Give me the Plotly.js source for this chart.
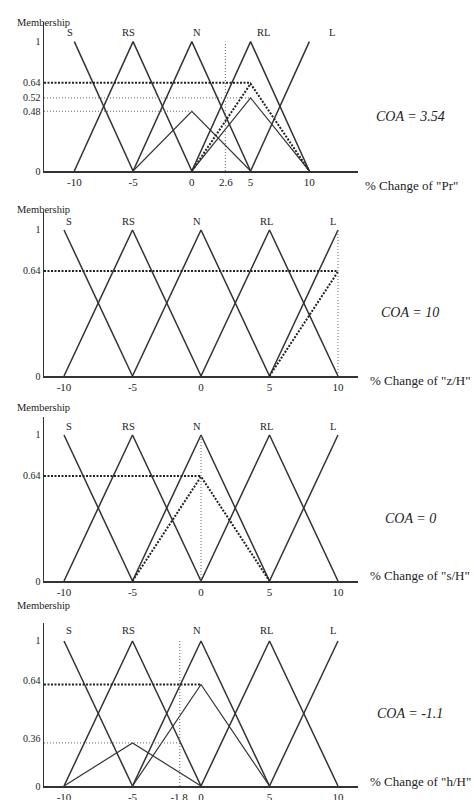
<!DOCTYPE html>
<html>
<head>
<meta charset="utf-8">
<script src="https://cdn.plot.ly/plotly-3.0.1.min.js"></script>
<style>
  html, body { margin: 0; padding: 0; background: #fff; }
  #chart { width: 474px; height: 800px; }
</style>
</head>
<body>
<div id="chart"></div>
<script>
// fuzzy sets shared by all four panels
const classNames = ["S", "RS", "N", "RL", "L"];
const mfX = [[-10, -5], [-10, -5, 0], [-5, 0, 5], [0, 5, 10], [5, 10]];
const mfY = [[1, 0], [0, 1, 0], [0, 1, 0], [0, 1, 0], [0, 1]];

// panel 1: % change of "Pr" (levels as drawn in the figure, labels as printed)
const prTickVals = [-10, -5, 0, 2.9, 5, 10];
const prTickText = ["-10", "-5", "0", "2.6", "5", "10"];
const prLevelVals = [0, 0.462, 0.565, 0.683, 1];
const prLevelText = ["0", "0.48", "0.52", "0.64", "1"];
const prScaledX = [[-5, 0, 5], [0, 5, 10]];
const prScaledY = [[0, 0.462, 0], [0, 0.565, 0]];
const prResultX = [0, 5, 10];
const prResultY = [0, 0.675, 0];
const prGuideY = [0.683, 0.565, 0.462];
const prGuideEnd = [5, 5, 0];
const prCut = 2.85;

// panel 2: % change of "z/H"
const zTickVals = [-10, -5, 0, 5, 10];
const zTickText = ["-10", "-5", "0", "5", "10"];
const zLevelVals = [0, 0.72, 1];
const zLevelText = ["0", "0.64", "1"];
const zResultX = [5, 10];
const zResultY = [0, 0.715];
const zGuideY = [0.719];
const zGuideEnd = [10];
const zCut = 10;

// panel 3: % change of "s/H"
const sTickVals = [-10, -5, 0, 5, 10];
const sTickText = ["-10", "-5", "0", "5", "10"];
const sLevelVals = [0, 0.72, 1];
const sLevelText = ["0", "0.64", "1"];
const sResultX = [-5, 0, 5];
const sResultY = [0, 0.715, 0];
const sGuideY = [0.719];
const sGuideEnd = [0];
const sCut = 0;

// panel 4: % change of "h/H"
const hTickVals = [-10, -5, -1.6, 0, 5, 10];
const hTickText = ["-10", "-5", "-1.8", "0", "5", "10"];
const hLevelVals = [0, 0.33, 0.73, 1];
const hLevelText = ["0", "0.36", "0.64", "1"];
const hScaledX = [[-10, -5, 0], [-5, 0, 5]];
const hScaledY = [[0, 0.297, 0], [0, 0.7, 0]];
const hGuideY = [0.7, 0.297];
const hGuideEnd = [0, -1.55];
const hCut = -1.55;

const coaValues = ["3.54", "10", "0", "-1.1"];
const varNames = ["Pr", "z/H", "s/H", "h/H"];

const panels = [
  { tv: prTickVals, tt: prTickText, lv: prLevelVals, lt: prLevelText, scaledX: prScaledX, scaledY: prScaledY, resultX: prResultX, resultY: prResultY, guideY: prGuideY, guideEnd: prGuideEnd, cut: prCut },
  { tv: zTickVals, tt: zTickText, lv: zLevelVals, lt: zLevelText, scaledX: [], scaledY: [], resultX: zResultX, resultY: zResultY, guideY: zGuideY, guideEnd: zGuideEnd, cut: zCut },
  { tv: sTickVals, tt: sTickText, lv: sLevelVals, lt: sLevelText, scaledX: [], scaledY: [], resultX: sResultX, resultY: sResultY, guideY: sGuideY, guideEnd: sGuideEnd, cut: sCut },
  { tv: hTickVals, tt: hTickText, lv: hLevelVals, lt: hLevelText, scaledX: hScaledX, scaledY: hScaledY, resultX: null, resultY: null, guideY: hGuideY, guideEnd: hGuideEnd, cut: hCut }
];

// page geometry (pixels) for each panel
const W = 474, H = 800;
const boxes = [
  { left: 44, right: 358, bottom: 171, top: 22, xr: [-12.58, 14.14], yr: [0, 1.152], labelX: [-10.4, -5.4, 0.4, 6.1, 11.9], labelY: 1.067, memY: 15, titleY: 176, coaY: 107, titleX: 363 },
  { left: 44, right: 358, bottom: 376, top: 212, xr: [-11.46, 11.46], yr: [0, 1.123], labelX: [-9.6, -5.3, -0.3, 4.8, 9.6], labelY: 1.055, memY: 202, titleY: 380, coaY: 312, titleX: 368 },
  { left: 44, right: 358, bottom: 581, top: 417, xr: [-11.46, 11.46], yr: [0, 1.123], labelX: [-9.6, -5.3, -0.3, 4.8, 9.6], labelY: 1.055, memY: 407, titleY: 585, coaY: 518, titleX: 368 },
  { left: 44, right: 358, bottom: 786, top: 623, xr: [-11.46, 11.46], yr: [0, 1.124], labelX: [-9.6, -5.3, -0.3, 4.8, 9.6], labelY: 1.07, memY: 613, titleY: 791, coaY: 723, titleX: 368 }
];

const ink = "#333";
const serif = "Liberation Serif, Times New Roman, serif";
const solid = { color: ink, width: 1.5 };
const thickDot = { color: "#222", width: 2, dash: "2px,1.5px" };
const thinDot = { color: "#666", width: 1, dash: "1px,2px" };

const px = v => v / W;
const py = v => 1 - v / H;

const traces = [];
const layout = {
  width: W, height: H,
  margin: { l: 0, r: 0, t: 0, b: 0 },
  paper_bgcolor: "#fff", plot_bgcolor: "#fff",
  showlegend: false,
  hovermode: false,
  font: { family: serif, color: "#222", size: 11 },
  annotations: []
};

panels.forEach((p, i) => {
  const b = boxes[i];
  const n = i + 1;
  const xa = n === 1 ? "x" : "x" + n;
  const ya = n === 1 ? "y" : "y" + n;
  const line = (x, y, style) => traces.push({ x, y, xaxis: xa, yaxis: ya, type: "scatter", mode: "lines", line: style, cliponaxis: false });

  mfX.forEach((x, k) => line(x, mfY[k], solid));
  p.scaledX.forEach((x, k) => line(x, p.scaledY[k], { color: ink, width: 1.2 }));
  if (p.resultX) line(p.resultX, p.resultY, thickDot);
  p.guideY.forEach((g, k) => line([b.xr[0], p.guideEnd[k]], [g, g], k === 0 ? thickDot : thinDot));
  line([p.cut, p.cut], [0, 1], thinDot);

  layout["xaxis" + (n === 1 ? "" : n)] = {
    domain: [px(b.left), px(b.right)], range: b.xr, anchor: ya,
    showgrid: false, zeroline: false, showline: true, linecolor: ink, linewidth: 1.5,
    ticks: "", tickvals: p.tv, ticktext: p.tt,
    tickfont: { family: serif, size: 11, color: "#222" }, fixedrange: true
  };
  layout["yaxis" + (n === 1 ? "" : n)] = {
    domain: [py(b.bottom), py(b.top)], range: b.yr, anchor: xa,
    showgrid: false, zeroline: false, showline: true, linecolor: ink, linewidth: 1.5,
    ticks: "", tickvals: p.lv, ticktext: p.lt,
    tickfont: { family: serif, size: 10, color: "#222" }, fixedrange: true
  };

  classNames.forEach((c, k) => layout.annotations.push({
    text: c, x: b.labelX[k], y: b.labelY, xref: xa, yref: ya, xanchor: "center", showarrow: false,
    font: { family: serif, size: 10.5, color: "#222" }
  }));
  layout.annotations.push(
    { text: "Membership", x: px(43), y: py(b.memY), xref: "paper", yref: "paper", xanchor: "center", showarrow: false,
      font: { family: serif, size: 10.5, color: "#222" } },
    { text: `% Change of "${varNames[i]}"`, x: px(b.titleX), y: py(b.titleY), xref: "paper", yref: "paper",
      xanchor: "left", showarrow: false, font: { family: serif, size: 13, color: "#222" } },
    { text: `<i>COA = ${coaValues[i]}</i>`, x: px(410), y: py(b.coaY), xref: "paper", yref: "paper",
      xanchor: "center", showarrow: false, font: { family: serif, size: 14, color: "#222" } }
  );
});

Plotly.newPlot("chart", traces, layout, { displayModeBar: false, staticPlot: true });
</script>
</body>
</html>
